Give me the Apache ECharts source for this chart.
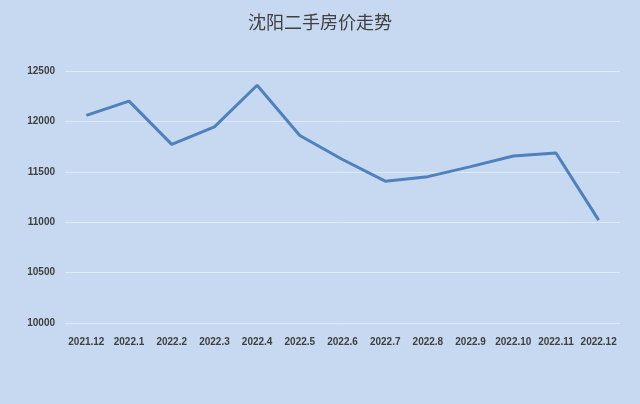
<!DOCTYPE html>
<html><head><meta charset="utf-8">
<script src="https://cdn.jsdelivr.net/npm/echarts@6/dist/echarts.min.js"></script>
<style>html,body{margin:0;padding:0;background:#c6d9f0}#c{width:640px;height:404px}</style>
</head><body><div id="c"></div>
<script>
var categories=["2021.12","2022.1","2022.2","2022.3","2022.4","2022.5","2022.6","2022.7","2022.8","2022.9","2022.10","2022.11","2022.12"];
var values=[12060,12201,11772,11946,12359,11860,11622,11407,11452,11551,11656,11686,11021];
var labelTexts=["12060","12,201","11,772","11,946","12,359","11,860","11,622","11,407","11452","11551","11656","11686","11021"];
var yTicks=[10000,10500,11000,11500,12000,12500];
var chart=echarts.init(document.getElementById('c'));
chart.setOption({
 backgroundColor:'#c6d9f0',
 title:{text:'沈阳二手房价走势',left:'center',top:8,textStyle:{fontFamily:'Noto Sans CJK SC',fontSize:18,fontWeight:'normal',color:'#404040'}},
 grid:{left:65,right:20,top:71,bottom:81},
 xAxis:{type:'category',data:categories,boundaryGap:true,axisLine:{show:false},axisTick:{show:false},
  axisLabel:{color:'#404040',fontSize:10,fontWeight:'bold',margin:14,interval:0}},
 yAxis:{type:'value',min:yTicks[0],max:yTicks[yTicks.length-1],interval:500,
  axisLabel:{color:'#404040',fontSize:10,fontWeight:'bold',margin:10,formatter:function(v){return String(v);}},
  splitLine:{lineStyle:{color:'#e0eaf6',width:1}}},
 series:[{type:'line',data:values.map(function(v,i){return {value:v,label:{formatter:labelTexts[i]}};}),
  symbol:'circle',symbolSize:2,showSymbol:true,itemStyle:{color:'#4f81bd',opacity:0},
  lineStyle:{color:'#4f81bd',width:3},
  label:{show:true,position:'right',distance:6,offset:[0,8],color:'#262626',fontSize:10,fontWeight:'bold'}}]
});
</script></body></html>
